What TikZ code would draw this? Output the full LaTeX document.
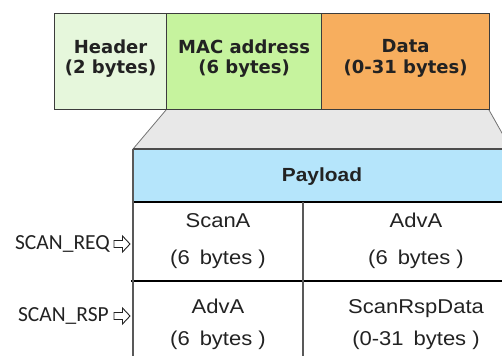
\documentclass[tikz,border=0pt]{standalone}
\usepackage{fontspec}
\newfontfamily\topfont{DejaVu Sans}
\newfontfamily\tabfont{Liberation Sans}[FakeStretch=1.1]
\newfontfamily\lblfont{Carlito}
\definecolor{hdrfill}{HTML}{E6F7DC}
\definecolor{macfill}{HTML}{C6F39E}
\definecolor{datafill}{HTML}{F7AE5E}
\definecolor{boxline}{HTML}{3C3C3C}
\definecolor{zoomfill}{HTML}{E8E8E8}
\definecolor{payfill}{HTML}{B5E5FB}
\definecolor{txt}{HTML}{222222}
\tikzset{
  field/.style={draw=boxline, line width=1.2pt, minimum height=96pt, anchor=north west,
    inner sep=0pt},
  fieldtext/.style={text=txt, align=center, yshift=3pt,
    font=\topfont\bfseries\fontsize{18}{20.5}\selectfont},
  cell/.style={text=txt, align=center, font=\tabfont\fontsize{20}{37}\selectfont},
  lbl/.style={text=txt, anchor=east, font=\lblfont\fontsize{21.5}{24}\selectfont, inner sep=0pt},
  gridv/.style={draw=black!65, line width=1.6pt},
  gridh/.style={draw=black, line width=1.2pt},
  hollowarrow/.pic={\draw[line width=0.9pt, draw=txt, fill=white, line join=miter]
    (-8,-3.5) -- (0.5,-3.5) -- (0.5,-8) -- (8,0) -- (0.5,8) -- (0.5,3.5) -- (-8,3.5) -- cycle;}
}
\begin{document}
\begin{tikzpicture}[x=1pt, y=-1pt]
\useasboundingbox (0,0) rectangle (502,356);
\clip (0,0) rectangle (502,356);

% expansion wedge from the data part down to the payload table
\fill[zoomfill] (166,110) -- (489,110) -- (511,149) -- (133,149) -- cycle;
\draw[black!55, line width=0.8pt] (166,110) -- (133,149);
\draw[black!55, line width=0.8pt] (489,110) -- (511,149);

% packet fields
\node[field, fill=hdrfill, minimum width=112pt] (hdr) at (54,13) {};
\node[field, fill=macfill, minimum width=155pt] (mac) at (166,13) {};
\node[field, fill=datafill, minimum width=168pt] (data) at (321,13) {};
\node[fieldtext] (hdrtext) at (hdr.center) {Header\\(2 bytes)};
\node[fieldtext] (mactext) at (mac.center) {MAC address\\(6 bytes)};
\node[fieldtext] (datatext) at (data.center) {Data\\(0-31 bytes)};

% payload table
\fill[payfill] (133,149) rectangle (530,202);
\coordinate (tl) at (133,149);
\coordinate (tr) at (530,149);
\coordinate (ml) at (133,202);
\coordinate (mr) at (530,202);
\coordinate (rl) at (131,281);
\coordinate (rr) at (530,281);
\coordinate (bl) at (133,356);
\coordinate (ct) at (303,202);
\coordinate (cb) at (303,356);
\draw[gridh, draw=black!70] (tl) -- (tr);
\draw[gridh] (ml) -- (mr);
\draw[gridh] (rl) -- (rr);
\draw[gridv] (tl) -- (bl);
\draw[gridv] (ct) -- (cb);

\node[cell, font=\tabfont\bfseries\fontsize{19}{22}\selectfont] (pay) at (322,177) {Payload};
\node[cell] (scana) at (218,241) {ScanA\\(6\enspace bytes )};
\node[cell] (adva1) at (416,241) {AdvA\\(6\enspace bytes )};
\node[cell, font=\tabfont\fontsize{20}{32}\selectfont] (adva2) at (218,324) {AdvA\\(6\enspace bytes )};
\node[cell, font=\tabfont\fontsize{20}{32}\selectfont] (rspdata) at (416,325) {ScanRspData\\(0-31\enspace bytes )};

% packet type labels with hollow arrows
\node[lbl] (req) at (110,244) {SCAN\_REQ};
\node[lbl] (rsp) at (109,316) {SCAN\_RSP};
\pic at (122,244) {hollowarrow};
\pic at (122,316) {hollowarrow};
\end{tikzpicture}
\end{document}
